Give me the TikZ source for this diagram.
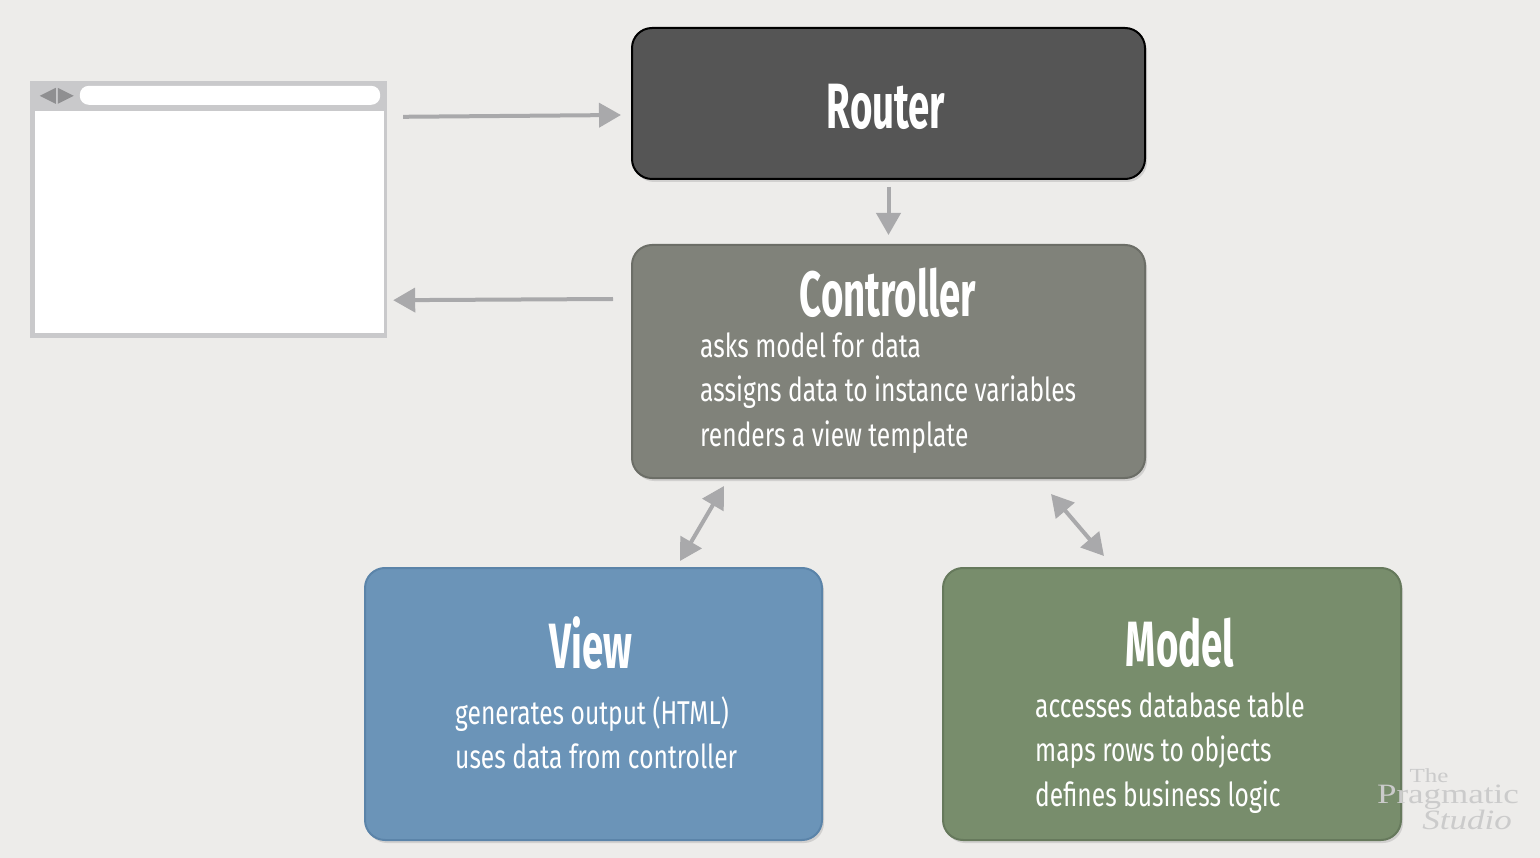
\documentclass[tikz,border=0pt]{standalone}
\usepackage{fontspec}
\setmainfont{Fira Sans}
\newfontfamily\stagetitlefont[FakeStretch=0.6]{Fira Sans}
\newfontfamily\stagetextfont[FakeStretch=0.745]{Fira Sans}
\newfontfamily\markfont[FakeStretch=1.25]{Liberation Serif}
\usetikzlibrary{arrows.meta,shadows}

\definecolor{bggray}{HTML}{EDECEA}
\definecolor{browsergray}{HTML}{C9C9CB}
\definecolor{browserdark}{HTML}{8F8F91}
\definecolor{arrowgray}{HTML}{A9A9AB}
\definecolor{routerfill}{HTML}{555555}
\definecolor{ctrlfill}{HTML}{80827A}
\definecolor{ctrldraw}{HTML}{6C6E67}
\definecolor{viewfill}{HTML}{6B94B8}
\definecolor{viewdraw}{HTML}{5B84A9}
\definecolor{modelfill}{HTML}{788D6C}
\definecolor{modeldraw}{HTML}{66795C}
\definecolor{markgray}{HTML}{CBCBCB}

\tikzset{
  stage/.style={rounded corners=20pt, line width=2pt, inner sep=0pt,
    drop shadow={shadow xshift=2pt, shadow yshift=-3pt, opacity=0.25}},
  stagetitle/.style={text=white, font=\stagetitlefont\bfseries\fontsize{64}{70}\selectfont},
  stagetext/.style={text=white, align=left, inner sep=0pt,
    font=\stagetextfont\fontsize{33}{44.5}\selectfont},
  flow/.style={-{Triangle[length=22pt,width=24pt]}, line width=4pt, draw=arrowgray},
  bothflow/.style={flow, {Triangle[length=22pt,width=24pt]}-{Triangle[length=22pt,width=24pt]}}
}

\begin{document}
\begin{tikzpicture}[x=1pt,y=-1pt]
\fill[bggray] (0,0) rectangle (1540,858);
\useasboundingbox (0,0) rectangle (1540,858);

% browser window
\node[fill=browsergray, inner sep=0pt, minimum width=357pt, minimum height=257pt] (browser) at (208.5,209.5) {};
\fill[white] ([shift={(5,30)}]browser.north west) rectangle ([shift={(-3,-5)}]browser.south east);
\fill[white, rounded corners=9pt] ([shift={(50,5)}]browser.north west) rectangle ([shift={(-7,24)}]browser.north east);
\fill[browserdark] ([shift={(10,15)}]browser.north west) -- ([shift={(26,7)}]browser.north west) -- ([shift={(26,23)}]browser.north west) -- cycle;
\fill[browserdark] ([shift={(44,15)}]browser.north west) -- ([shift={(28,7)}]browser.north west) -- ([shift={(28,23)}]browser.north west) -- cycle;

% stages
\node[stage, fill=routerfill, draw=black, minimum width=513pt, minimum height=151pt] (router) at (888.5,103.5) {};
\node[stagetitle] (router-title) at (886,107) {Router};

\node[stage, fill=ctrlfill, draw=ctrldraw, minimum width=513pt, minimum height=233pt] (controller) at (888.5,361.5) {};
\node[stagetitle] (ctrl-title) at (888,293) {Controller};
\node[stagetext, anchor=west] (ctrl-text) at (700,393) {asks model for data\\assigns data to instance variables\\renders a view template};

\node[stage, fill=viewfill, draw=viewdraw, minimum width=457pt, minimum height=272pt] (view) at (593.5,704) {};
\node[stagetitle] (view-title) at (591,643) {View};
\node[stagetext, anchor=west] (view-text) at (455,733) {generates output (HTML)\\uses data from controller};

\node[stage, fill=modelfill, draw=modeldraw, minimum width=458pt, minimum height=272pt] (model) at (1172,704) {};
\node[stagetitle] (model-title) at (1180,643) {Model};
\node[stagetext, anchor=west] (model-text) at (1035,753) {accesses database table\\maps rows to objects\\defines business logic};

% connectors
\draw[flow] ([shift={(16,36)}]browser.north east) -- ([shift={(-10,11.5)}]router.west);
\draw[flow] ([shift={(0,7)}]router.south) -- ([shift={(0,-9)}]controller.north);
\draw[flow] ([shift={(-18,55)}]controller.north west) -- ([shift={(6,-38)}]browser.south east);
\draw[bothflow] ([shift={(93,7)}]controller.south west) -- ([shift={(86.5,-6)}]view.north);
\draw[bothflow] ([shift={(-95,15)}]controller.south east) -- ([shift={(162,-11)}]model.north west);

% watermark
\node[text=markgray, align=center, inner sep=0pt, font=\markfont\fontsize{28}{21}\selectfont] (mark) at (1448,799)
  {\hspace*{-38pt}{\fontsize{20}{21}\selectfont The}\\Pragmatic\\\hspace*{38pt}\itshape Studio};
\end{tikzpicture}
\end{document}
